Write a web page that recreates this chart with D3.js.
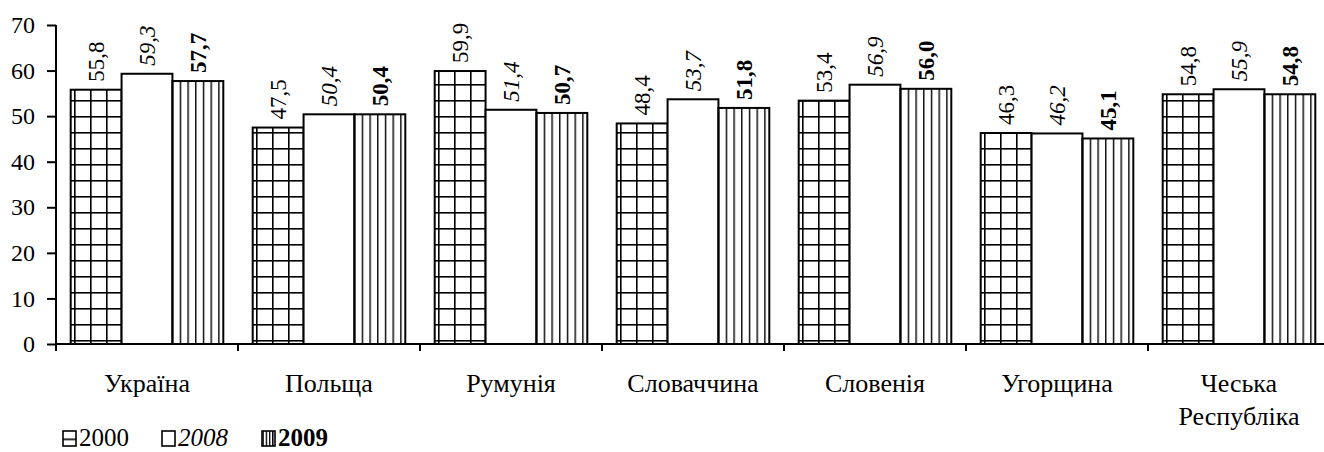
<!DOCTYPE html>
<html>
<head>
<meta charset="utf-8">
<script src="https://cdn.jsdelivr.net/npm/d3@7"></script>
<style>
  body { margin: 0; background: #fff; }
  svg text { font-family: "Liberation Serif", "Times New Roman", serif; fill: #000; }
</style>
</head>
<body>
<div id="chart"></div>
<script>
// data
const countries = [["Україна"], ["Польща"], ["Румунія"], ["Словаччина"], ["Словенія"], ["Угорщина"], ["Чеська", "Республіка"]];
const years = ["2000", "2008", "2009"];
const v2000 = [55.8, 47.5, 59.9, 48.4, 53.4, 46.3, 54.8];
const v2008 = [59.3, 50.4, 51.4, 53.7, 56.9, 46.2, 55.9];
const v2009 = [57.7, 50.4, 50.7, 51.8, 56.0, 45.1, 54.8];
const yTicks = [0, 10, 20, 30, 40, 50, 60, 70];

const width = 1324, height = 452;
const x0 = 56, yBase = 344, yTop = 25;
const serif = "'Liberation Serif', 'Times New Roman', serif";

const svg = d3.select("#chart").append("svg")
  .attr("width", width).attr("height", height)
  .attr("font-family", serif);

// hatch patterns
const defs = svg.append("defs");
const grid = defs.append("pattern").attr("id", "grid")
  .attr("patternUnits", "userSpaceOnUse")
  .attr("x", 82).attr("y", 4).attr("width", 16).attr("height", 16);
grid.append("rect").attr("width", 16).attr("height", 16).attr("fill", "#fff");
grid.append("rect").attr("x", 0).attr("y", 0).attr("width", 1.6).attr("height", 16).attr("fill", "#000");
grid.append("rect").attr("x", 0).attr("y", 0).attr("width", 16).attr("height", 1.6).attr("fill", "#000");

const vert = defs.append("pattern").attr("id", "vert")
  .attr("patternUnits", "userSpaceOnUse")
  .attr("x", 0.5).attr("y", 0).attr("width", 7.7).attr("height", 10);
vert.append("rect").attr("width", 7.7).attr("height", 10).attr("fill", "#fff");
vert.append("rect").attr("x", 0).attr("width", 1.4).attr("height", 10).attr("fill", "#000");

// small patterns for legend keys
const lgrid = defs.append("pattern").attr("id", "lgrid")
  .attr("patternUnits", "userSpaceOnUse").attr("x", 0).attr("y", 0.5).attr("width", 40).attr("height", 15);
lgrid.append("rect").attr("width", 40).attr("height", 15).attr("fill", "#fff");
lgrid.append("rect").attr("x", 0).attr("y", 7).attr("width", 40).attr("height", 1.6).attr("fill", "#000");
const lvert = defs.append("pattern").attr("id", "lvert")
  .attr("patternUnits", "userSpaceOnUse").attr("x", 0.5).attr("y", 0).attr("width", 3.2).attr("height", 10);
lvert.append("rect").attr("width", 3.2).attr("height", 10).attr("fill", "#fff");
lvert.append("rect").attr("width", 1.4).attr("height", 10).attr("fill", "#000");

const fills = { "2000": "url(#grid)", "2008": "#fff", "2009": "url(#vert)" };
const legendFills = { "2000": "url(#lgrid)", "2008": "#fff", "2009": "url(#lvert)" };
const styles = {
  "2000": { style: "normal", weight: "normal" },
  "2008": { style: "italic", weight: "normal" },
  "2009": { style: "normal", weight: "bold" }
};

const x = d3.scaleBand().domain(d3.range(countries.length))
  .range([x0, x0 + 182 * countries.length]).padding(0);
const xSub = d3.scaleBand().domain(years)
  .range([14.7, x.bandwidth() - 14.7]).padding(0);
const y = d3.scaleLinear().domain([0, 70]).range([yBase, yTop]);

const rows = countries.map((c, i) => ({
  i: i, name: c,
  vals: [
    { key: "2000", value: v2000[i] },
    { key: "2008", value: v2008[i] },
    { key: "2009", value: v2009[i] }
  ]
}));

const fmt = (v) => d3.format(".1f")(v).replace(".", ",");

// bars
const groups = svg.append("g").selectAll("g").data(rows).join("g")
  .attr("transform", (d) => `translate(${x(d.i)},0)`);

groups.selectAll("rect").data((d) => d.vals).join("rect")
  .attr("x", (d) => xSub(d.key))
  .attr("y", (d) => y(d.value))
  .attr("width", xSub.bandwidth())
  .attr("height", (d) => yBase - y(d.value))
  .attr("fill", (d) => fills[d.key])
  .attr("stroke", "#000")
  .attr("stroke-width", 2);

// value labels, rotated
groups.selectAll("text.val").data((d) => d.vals).join("text")
  .attr("class", "val")
  .attr("transform", (d) => `translate(${xSub(d.key) + xSub.bandwidth() / 2},${y(d.value) - 8}) rotate(-90)`)
  .attr("dy", "0.35em")
  .attr("text-anchor", "start")
  .style("font-size", "23px")
  .style("font-style", (d) => styles[d.key].style)
  .style("font-weight", (d) => styles[d.key].weight)
  .text((d) => fmt(d.value));

// y axis
const yAxis = svg.append("g").attr("transform", `translate(${x0},0)`)
  .call(d3.axisLeft(y).tickValues(yTicks).tickSize(9).tickPadding(12))
  .attr("font-family", serif);
yAxis.select(".domain").attr("stroke-width", 2).attr("d", `M0,${yTop}V${yBase + 7}`);
yAxis.selectAll(".tick line").attr("stroke-width", 2);
yAxis.selectAll(".tick text").style("font-size", "24px");

// x axis
const xAxis = svg.append("g").attr("transform", `translate(0,${yBase})`);
xAxis.append("line").attr("x1", x0).attr("x2", width).attr("stroke", "#000").attr("stroke-width", 2);
xAxis.selectAll("line.tk").data(d3.range(countries.length + 1)).join("line")
  .attr("class", "tk")
  .attr("x1", (d) => x0 + d * x.step()).attr("x2", (d) => x0 + d * x.step())
  .attr("y1", 0).attr("y2", 7)
  .attr("stroke", "#000").attr("stroke-width", 2);

const catLabels = xAxis.selectAll("text").data(rows).join("text")
  .attr("x", (d) => x(d.i) + x.bandwidth() / 2)
  .attr("y", 48)
  .attr("text-anchor", "middle")
  .style("font-size", "26px");
catLabels.selectAll("tspan").data((d) => d.name).join("tspan")
  .attr("x", function () { return this.parentNode.getAttribute("x"); })
  .attr("dy", (d, i) => (i === 0 ? 0 : 33))
  .text((d) => d);

// legend
const legendX = [63, 162, 262];
const legend = svg.append("g").attr("transform", "translate(0,431)");
const items = legend.selectAll("g").data(years).join("g")
  .attr("transform", (d, i) => `translate(${legendX[i]},0)`);
items.append("rect")
  .attr("x", 0).attr("y", 0).attr("width", 13).attr("height", 15)
  .attr("fill", (d) => legendFills[d])
  .attr("stroke", "#000").attr("stroke-width", 1.6);
items.append("text")
  .attr("x", 16).attr("y", 15)
  .style("font-size", "25px")
  .style("font-style", (d) => styles[d].style)
  .style("font-weight", (d) => styles[d].weight)
  .text((d) => d);
</script>
</body>
</html>
